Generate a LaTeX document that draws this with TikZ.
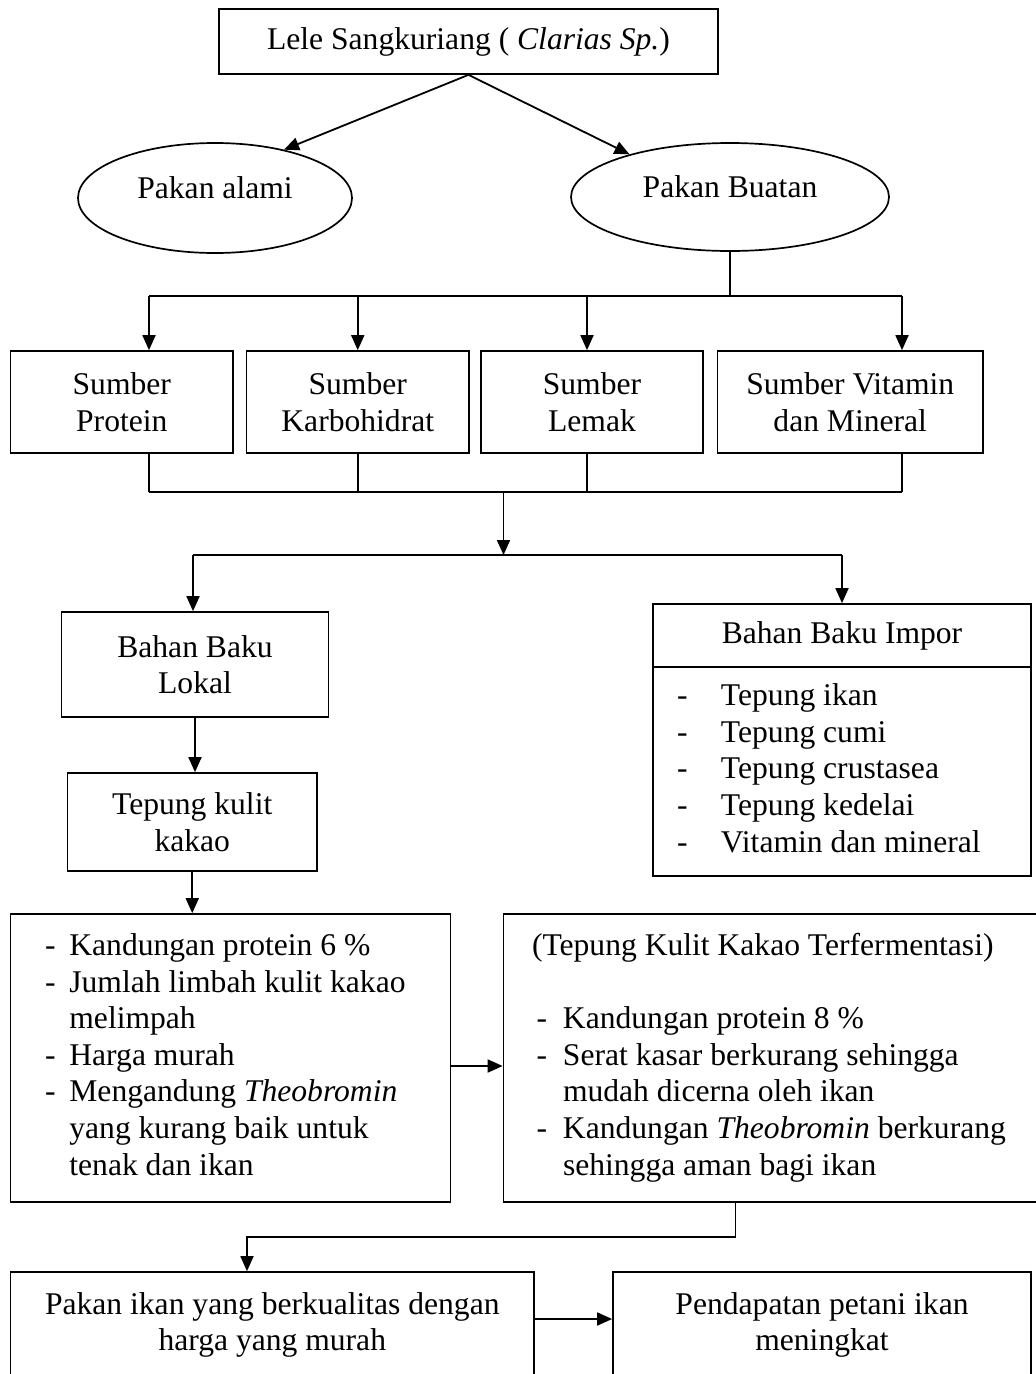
\documentclass[tikz,border=0pt]{standalone}
\usepackage{fontspec}
\setmainfont{Liberation Serif}
\usetikzlibrary{arrows.meta,shapes.geometric}
\begin{document}
\begin{tikzpicture}[x=1pt,y=-1pt,
  every node/.style={font=\fontsize{31.6pt}{36.6pt}\selectfont},
  ln/.style={line width=1.8pt},
  arr/.style={line width=1.8pt,-{Triangle[length=15pt,width=13pt]}},
  box/.style={draw,line width=1.7pt,rectangle,align=center,inner sep=0pt},
  oval/.style={draw,line width=1.7pt,ellipse,text height=22pt,text depth=22pt,inner sep=0pt}]
\useasboundingbox (0,0) rectangle (1036,1374);
\clip (0,0) rectangle (1036,1374);

% nodes
\node[box,minimum width=499pt,minimum height=65pt] (T) at (468.5,41.5) {Lele Sangkuriang ( \textit{Clarias Sp.})};
\node[oval,minimum width=274pt,minimum height=110pt] (PA) at (215,198) {Pakan alami};
\node[oval,minimum width=318pt,minimum height=108pt] (PB) at (730,197) {Pakan Buatan};

\node[box,minimum width=222.4pt,minimum height=102pt] (S1) at (121.8,402) {Sumber\\Protein};
\node[box,minimum width=222.5pt,minimum height=102pt] (S2) at (357.75,402) {Sumber\\Karbohidrat};
\node[box,minimum width=222pt,minimum height=102pt] (S3) at (592,402) {Sumber\\Lemak};
\node[box,minimum width=265.5pt,minimum height=102pt] (S4) at (850.25,402) {Sumber Vitamin\\dan Mineral};

\node[box,minimum width=267pt,minimum height=105pt] (BBL) at (195,664.5) {Bahan Baku\\Lokal};
\node[box,minimum width=249.5pt,minimum height=98pt] (TK) at (192.25,822) {Tepung kulit\\kakao};

\node[box,minimum width=378pt,minimum height=63pt] (BBIt) at (842,635.5) {Bahan Baku Impor};
\node[box,minimum width=378pt,minimum height=209pt] (BBIl) at (842,771.5) {%
\begin{tabular}{@{}p{44pt}@{}p{286pt}@{}}
- & Tepung ikan\\
- & Tepung cumi\\
- & Tepung crustasea\\
- & Tepung kedelai\\
- & Vitamin dan mineral
\end{tabular}};

\node[box,minimum width=440pt,minimum height=288pt] (A) at (230.6,1058) {%
\begin{tabular}{@{}p{24.4pt}@{}p{346.8pt}@{}}
- & Kandungan protein 6 \%\\
- & Jumlah limbah kulit kakao\\
  & melimpah\\
- & Harga murah\\
- & Mengandung \textit{Theobromin}\\
  & yang kurang baik untuk\\
  & tenak dan ikan
\end{tabular}};

\node[box,minimum width=538pt,minimum height=288pt] (B) at (772.5,1058) {%
\begin{tabular}{@{}p{4.5pt}@{}p{26.5pt}@{}p{450pt}@{}}
\multicolumn{3}{@{}p{481pt}@{}}{(Tepung Kulit Kakao Terfermentasi)}\\
 & & \\
 & - & Kandungan protein 8 \%\\
 & - & Serat kasar berkurang sehingga\\
 & & mudah dicerna oleh ikan\\
 & - & Kandungan \textit{Theobromin} berkurang\\
 & & sehingga aman bagi ikan
\end{tabular}};

\node[box,minimum width=523.4pt,minimum height=106pt] (C) at (272.3,1325) {Pakan ikan yang berkualitas dengan\\harga yang murah};
\node[box,minimum width=418pt,minimum height=106pt] (D) at (822,1325) {Pendapatan petani ikan\\meningkat};

% connectors
\draw[arr] (T.south) -- (PA.35);
\draw[arr] (T.south) -- (PB.157);

\coordinate (busA) at (149,296);
\coordinate (busB) at (902,296);
\draw[ln] (PB.south) -- (PB.south |- busA);
\draw[ln] (busA) -- (busB);
\draw[arr] (busA) -- (busA |- S1.north);
\draw[arr] (S2.north |- busA) -- (S2.north);
\draw[arr] ([xshift=-5pt]S3.north |- busA) -- ([xshift=-5pt]S3.north);
\draw[arr] (busB) -- (busB |- S4.north);

\coordinate (busC) at (149,492);
\coordinate (busD) at (902,492);
\draw[ln] (busA |- S1.south) -- (busC);
\draw[ln] (S2.south) -- (S2.south |- busC);
\draw[ln] ([xshift=-5pt]S3.south) -- ([xshift=-5pt]S3.south |- busC);
\draw[ln] (busD |- S4.south) -- (busD);
\draw[ln] (busC) -- (busD);

\coordinate (mid) at (503.5,492);
\coordinate (busE) at (193,555);
\draw[arr] (mid) -- (mid |- busE);
\draw[ln] (busE) -- (BBIt.north |- busE);
\draw[arr] (busE) -- (busE |- BBL.north);
\draw[arr] (BBIt.north |- busE) -- (BBIt.north);

\draw[arr] (BBL.south) -- (BBL.south |- TK.north);
\draw[arr] (TK.south) -- (TK.south |- A.north);
\draw[arr] ([yshift=-8pt]A.east) -- ([yshift=-8pt]A.east -| B.west);

\coordinate (elb) at (247,1237);
\draw[arr] ([xshift=-37pt]B.south) |- (elb) -- (elb |- C.north);
\draw[arr] ([yshift=6pt]C.east) -- ([yshift=6pt]C.east -| D.west);
\end{tikzpicture}
\end{document}
